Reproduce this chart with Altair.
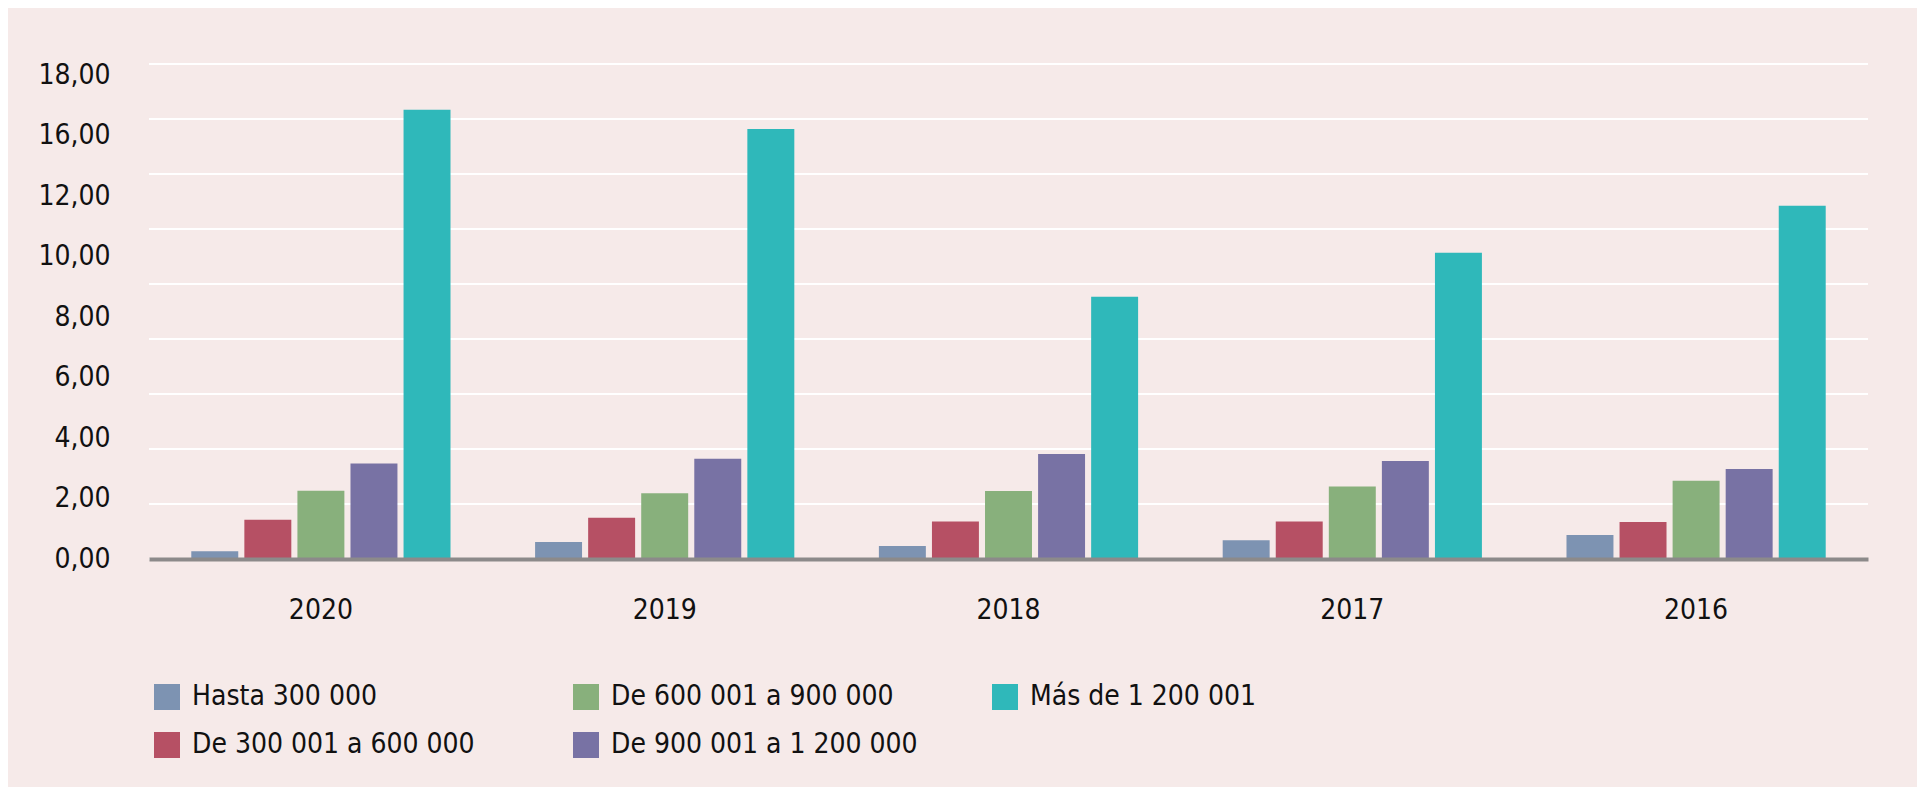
import altair as alt
import pandas as pd

years = ["2020", "2019", "2018", "2017", "2016"]
series = [
    "Hasta 300 000",
    "De 300 001 a 600 000",
    "De 600 001 a 900 000",
    "De 900 001 a 1 200 000",
    "Más de 1 200 001",
]
hasta_300 = [0.28, 0.62, 0.47, 0.68, 0.87]
de_300_600 = [1.43, 1.50, 1.36, 1.36, 1.35]
de_600_900 = [2.48, 2.39, 2.47, 2.64, 2.85]
de_900_1200 = [3.47, 3.65, 3.82, 3.56, 3.27]
mas_1200 = [16.34, 15.64, 9.54, 11.14, 12.85]

colors = ["#7d93b2", "#b65064", "#88b07c", "#7872a4", "#2fb8ba"]

grid_values = [0, 2, 4, 6, 8, 10, 12, 14, 16, 18]
y_tick_labels = ["0,00", "2,00", "4,00", "6,00", "8,00", "10,00", "12,00", "16,00", "18,00"]

rows = []
for vals, s in zip([hasta_300, de_300_600, de_600_900, de_900_1200, mas_1200], series):
    for y, v in zip(years, vals):
        rows.append({"year": y, "series": s, "value": v})
df = pd.DataFrame(rows)
grid_df = pd.DataFrame({"g": grid_values})

FONT = "DejaVu Sans Condensed, Roboto, sans-serif"
FS = 28
label_positions = [round(i * 2.2, 2) for i in range(len(y_tick_labels))]
label_expr = "[" + ",".join("'" + t + "'" for t in y_tick_labels) + "][round(datum.value/2.2)]"

yscale = alt.Scale(domain=[0, 18], nice=False, zero=True)
yaxis = alt.Axis(
    title=None,
    values=label_positions,
    labelExpr=label_expr,
    grid=False,
    ticks=False,
    domain=False,
    labelFont=FONT,
    labelFontSize=FS,
    labelColor="#111111",
    labelPadding=39,
)

grid = alt.Chart(grid_df).mark_rule(color="#ffffff", strokeWidth=2).encode(
    y=alt.Y("g:Q", scale=yscale, axis=yaxis)
)

bars = alt.Chart(df).mark_bar().encode(
    x=alt.X(
        "year:N",
        sort=years,
        scale=alt.Scale(paddingInner=0.246, paddingOuter=0.123),
        axis=alt.Axis(
            title=None,
            labelAngle=0,
            ticks=False,
            domainColor="#8c8a8a",
            domainWidth=4,
            labelFont=FONT,
            labelFontSize=FS,
            labelColor="#111111",
            labelPadding=37,
            grid=False,
            zindex=1,
        ),
    ),
    xOffset=alt.XOffset(
        "series:N", sort=series, scale=alt.Scale(paddingInner=0.115, paddingOuter=0)
    ),
    y=alt.Y("value:Q", scale=yscale, axis=yaxis),
    color=alt.Color(
        "series:N",
        scale=alt.Scale(domain=series, range=colors),
        legend=alt.Legend(
            title=None,
            orient="none",
            legendX=4,
            legendY=619,
            columns=3,
            gridAlign="all",
            columnPadding=73,
            rowPadding=20,
            symbolType="square",
            symbolSize=676,
            symbolStrokeWidth=0,
            symbolOpacity=1,
            labelFont=FONT,
            labelFontSize=FS,
            labelColor="#111111",
            labelOffset=11,
            labelLimit=600,
            padding=0,
        ),
    ),
)

chart = (
    alt.layer(grid, bars)
    .properties(
        width=1719,
        height=495,
        background="#f6eae9",
        autosize=alt.AutoSizeParams(type="none"),
        padding={"left": 141, "top": 56, "right": 49, "bottom": 228},
    )
    .configure_view(stroke=None)
)

chart.save("out.html", embed_options={"renderer": "svg", "actions": False})
